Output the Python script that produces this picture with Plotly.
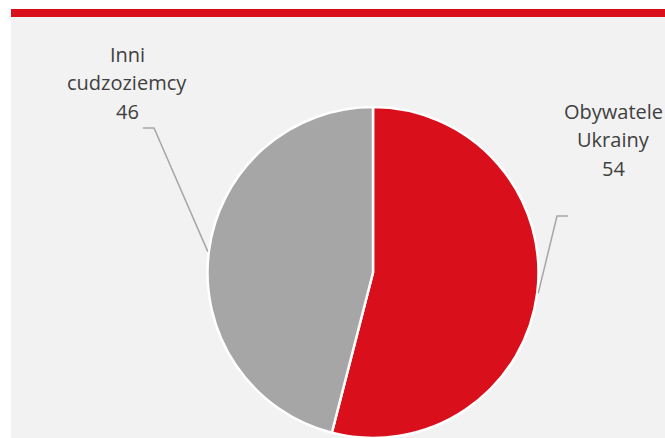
import math
import plotly.graph_objects as go

# Structure of foreigners (share, %)
labels = ["Obywatele Ukrainy", "Inni cudzoziemcy"]
label_lines = [["Obywatele", "Ukrainy"], ["Inni", "cudzoziemcy"]]
values = [54, 46]
colors = ["#d90f1c", "#a6a6a6"]

W, H = 665, 438
RED = "#d90f1c"
PANEL = "#f2f2f2"
TEXT = "#404040"
LEADER = "#a6a6a6"


def px(x):
    return x / W


def py(y):
    return 1 - y / H


# pie placement (pixels)
pie_left, pie_right, pie_top = 206, 540, 107
dom_x = [px(pie_left), px(pie_right)]
dom_y = [0, py(pie_top)]
radius = min(pie_right - pie_left, H - pie_top) / 2
cx = (pie_left + pie_right) / 2
cy = H - radius

fig = go.Figure(
    go.Pie(
        labels=labels,
        values=values,
        sort=False,
        direction="clockwise",
        rotation=0,
        marker=dict(colors=colors, line=dict(color="white", width=2.5)),
        textinfo="none",
        hoverinfo="label+value",
        domain=dict(x=dom_x, y=dom_y),
        showlegend=False,
    )
)

shapes = [
    # light panel
    dict(type="rect", xref="paper", yref="paper", x0=px(11), x1=1.0,
         y0=0, y1=py(17), fillcolor=PANEL, line=dict(width=0), layer="below"),
    # red top band
    dict(type="rect", xref="paper", yref="paper", x0=px(11), x1=1.0,
         y0=py(17), y1=py(9), fillcolor=RED, line=dict(width=0), layer="below"),
]
annotations = []

# leader-line elbow/end and label layout per slice (pixels)
layout_spec = [
    dict(elbow=(557, 216), end=(568, 216), text_x=613, baseline0=121, step=28.7),
    dict(elbow=(154, 128), end=(143, 128), text_x=127, baseline0=64, step=28.8),
]

total = sum(values)
start = 0.0
font_size = 20
for i, v in enumerate(values):
    frac = v / total
    mid = (start + frac / 2) * 2 * math.pi
    start += frac
    ex = cx + (radius + 1) * math.sin(mid)
    ey = cy - (radius + 1) * math.cos(mid)
    spec = layout_spec[i]
    (bx, by), (tx, ty) = spec["elbow"], spec["end"]
    path = f"M {px(ex)},{py(ey)} L {px(bx)},{py(by)} L {px(tx)},{py(ty)}"
    shapes.append(dict(type="path", xref="paper", yref="paper", path=path,
                       line=dict(color=LEADER, width=1.5)))
    lines = label_lines[i] + [str(v)]
    for k, line in enumerate(lines):
        baseline = spec["baseline0"] + k * spec["step"]
        annotations.append(dict(
            xref="paper", yref="paper",
            x=px(spec["text_x"]), y=py(baseline + 0.28 * font_size),
            xanchor="center", yanchor="bottom",
            text=line, showarrow=False,
            font=dict(family="Open Sans", size=font_size, color=TEXT),
        ))

fig.update_layout(
    width=W, height=H,
    margin=dict(l=0, r=0, t=0, b=0),
    paper_bgcolor="white",
    plot_bgcolor="white",
    shapes=shapes,
    annotations=annotations,
)

fig.write_html("out.html")
